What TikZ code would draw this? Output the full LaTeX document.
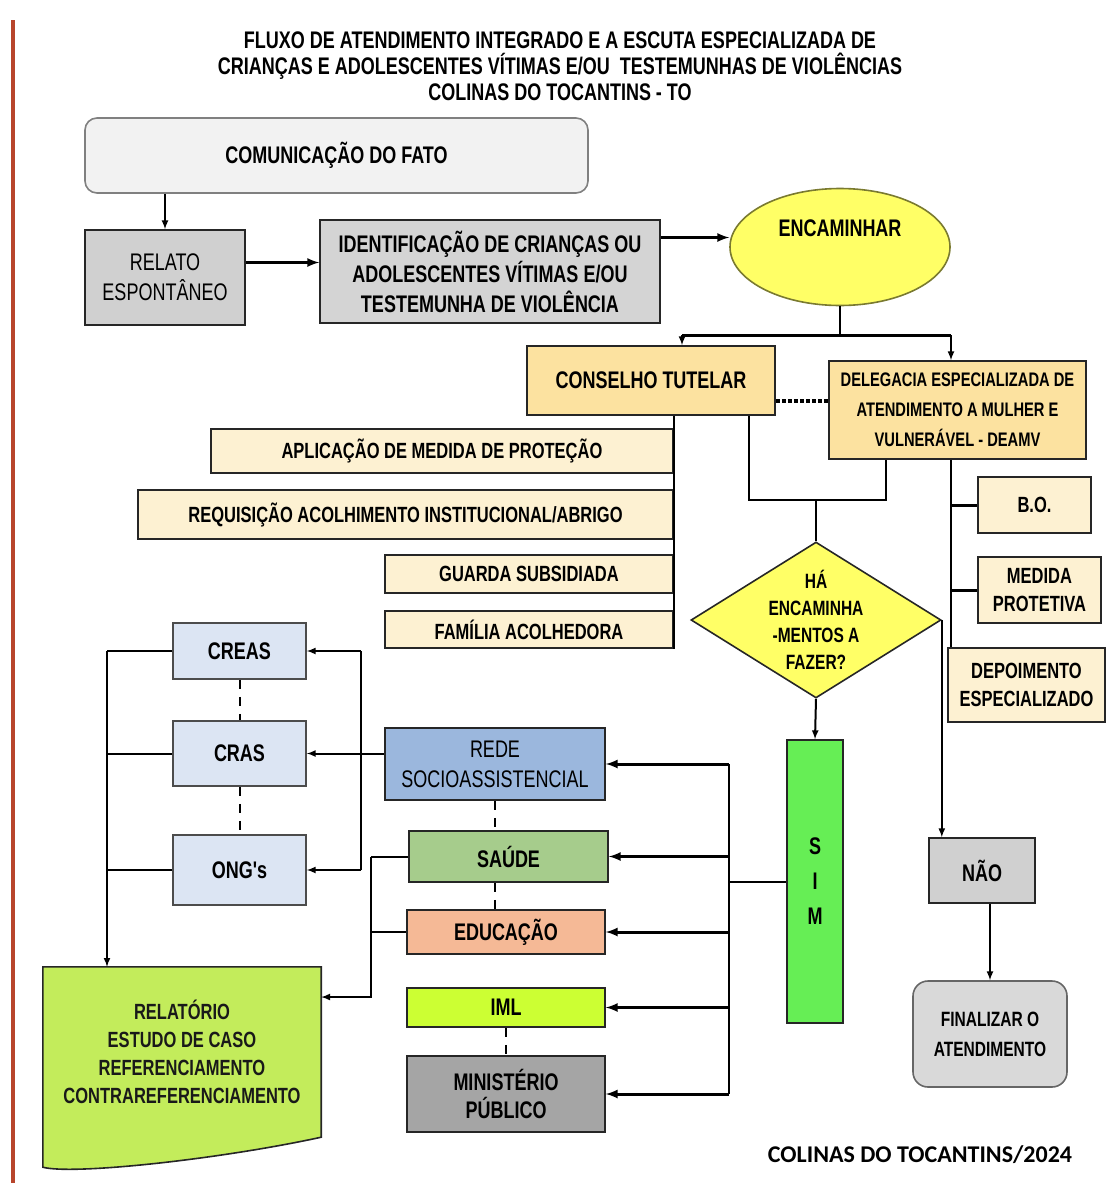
\documentclass[tikz,border=0pt]{standalone}
\usepackage{fontspec}
\usepackage{xcolor}
\usepackage{tikz}
\usetikzlibrary{positioning}
\usetikzlibrary{shapes.geometric}
\pgfdeclarelayer{nodelayer}
\pgfdeclarelayer{edgelayer}
\pgfsetlayers{nodelayer,edgelayer,main}

\newfontfamily\narrowfont[FakeStretch=0.75]{Liberation Sans}
\newfontfamily\footfont{Carlito}

\definecolor{lightgrey}{HTML}{F2F2F2}
\definecolor{relgrey}{HTML}{D0D0D0}
\definecolor{identgrey}{HTML}{D4D4D4}
\definecolor{encyellow}{HTML}{FFFF66}
\definecolor{encborder}{HTML}{7A7A30}
\definecolor{ctgold}{HTML}{FCE2A0}
\definecolor{subcream}{HTML}{FDF1D2}
\definecolor{simgreen}{HTML}{66EE55}
\definecolor{fingrey}{HTML}{D9D9D9}
\definecolor{creasblue}{HTML}{DCE5F3}
\definecolor{redeblue}{HTML}{9BB7DD}
\definecolor{saudegreen}{HTML}{A6CC8C}
\definecolor{educsalmon}{HTML}{F5B996}
\definecolor{imlgreen}{HTML}{CCFF33}
\definecolor{mpgrey}{HTML}{A5A5A5}
\definecolor{relgreen}{HTML}{C3EC5B}
\definecolor{redline}{HTML}{B8452C}

\tikzset{
    boldtext/.style={font=\narrowfont\bfseries\fontsize{24}{28}\selectfont, align=center},
    box/.style={draw=black!85, line width=1.6pt, inner sep=0pt, boldtext},
    plainbox/.style={box, font=\narrowfont\fontsize{24}{30}\selectfont},
    subbox/.style={box, fill=subcream, font=\narrowfont\bfseries\fontsize{22}{28}\selectfont},
    link/.style={line width=2pt},
    arrow/.style={link, ->, >=latex},
    dashlink/.style={line width=2pt, dash pattern=on 9pt off 8pt}
}

\begin{document}
\begin{tikzpicture}[x=1pt, y=-1pt]
        \useasboundingbox (0,0) rectangle (1113,1183);
        \begin{pgfonlayer}{nodelayer}
            \node [boldtext, font=\narrowfont\bfseries\fontsize{24}{26}\selectfont] (0) at (560,66) {FLUXO DE ATENDIMENTO INTEGRADO E A ESCUTA ESPECIALIZADA DE\\CRIANÇAS E ADOLESCENTES VÍTIMAS E/OU \ TESTEMUNHAS DE VIOLÊNCIAS\\COLINAS DO TOCANTINS - TO};
            \node [box, rounded corners=12pt, fill=lightgrey, draw=black!50, minimum width=503pt, minimum height=75pt] (1) at (336.5,155.5) {COMUNICAÇÃO DO FATO};
            \node [plainbox, fill=relgrey, minimum width=160pt, minimum height=95pt] (2) at (165,277.5) {RELATO\\ESPONTÂNEO};
            \node [box, fill=identgrey, minimum width=340pt, minimum height=103pt, font=\narrowfont\bfseries\fontsize{24}{30}\selectfont] (3) at (490,271.5) {IDENTIFICAÇÃO DE CRIANÇAS OU\\ADOLESCENTES VÍTIMAS E/OU\\TESTEMUNHA DE VIOLÊNCIA};
            \node [ellipse, draw=encborder, line width=1.6pt, fill=encyellow, minimum width=220pt, minimum height=117pt, label={[boldtext, yshift=19pt]center:ENCAMINHAR}] (4) at (840,247) {};
            \node [box, fill=ctgold, minimum width=248pt, minimum height=69pt] (5) at (651,380.5) {CONSELHO TUTELAR};
            \node [box, fill=ctgold, minimum width=257pt, minimum height=98pt, font=\narrowfont\bfseries\fontsize{19.6}{30}\selectfont] (6) at (957.5,410) {DELEGACIA ESPECIALIZADA DE\\ATENDIMENTO A MULHER E\\VULNERÁVEL - DEAMV};
            \node [subbox, minimum width=462pt, minimum height=44pt] (7) at (442,451) {APLICAÇÃO DE MEDIDA DE PROTEÇÃO};
            \node [subbox, minimum width=535pt, minimum height=49pt] (8) at (405.5,514.5) {REQUISIÇÃO ACOLHIMENTO INSTITUCIONAL/ABRIGO};
            \node [subbox, minimum width=288pt, minimum height=38pt] (9) at (529,574) {GUARDA SUBSIDIADA};
            \node [subbox, minimum width=288pt, minimum height=37pt] (10) at (529,629.5) {FAMÍLIA ACOLHEDORA};
            \node [subbox, minimum width=113pt, minimum height=56pt] (11) at (1034.5,505) {B.O.};
            \node [subbox, minimum width=123pt, minimum height=66pt] (12) at (1039.5,590) {MEDIDA\\PROTETIVA};
            \node [subbox, minimum width=157pt, minimum height=74pt] (13) at (1026.5,685) {DEPOIMENTO\\ESPECIALIZADO};
            \node [diamond, draw=black!85, line width=1.6pt, fill=encyellow, minimum width=250pt, minimum height=156pt, inner sep=0pt, label={[boldtext, font=\narrowfont\bfseries\fontsize{20.7}{27}\selectfont]center:HÁ\\ENCAMINHA\\-MENTOS A\\FAZER?}] (14) at (816,620) {};
            \node [box, fill=simgreen, minimum width=56pt, minimum height=283pt, font=\narrowfont\bfseries\fontsize{24}{35}\selectfont] (15) at (815,881.5) {S\\I\\M};
            \node [box, fill=relgrey, minimum width=106pt, minimum height=65pt] (16) at (982,870.5) {NÃO};
            \node [box, rounded corners=15pt, fill=fingrey, draw=black!60, minimum width=154pt, minimum height=106pt, font=\narrowfont\bfseries\fontsize{20.7}{30}\selectfont] (17) at (990,1034) {FINALIZAR O\\ATENDIMENTO};
            \node [box, fill=creasblue, draw=black!70, minimum width=133pt, minimum height=56pt] (18) at (239.5,651) {CREAS};
            \node [box, fill=creasblue, draw=black!70, minimum width=133pt, minimum height=65pt] (19) at (239.5,753.5) {CRAS};
            \node [box, fill=creasblue, draw=black!70, minimum width=133pt, minimum height=70pt] (20) at (239.5,870) {ONG's};
            \node [plainbox, fill=redeblue, minimum width=220pt, minimum height=72pt] (21) at (495,764) {REDE\\SOCIOASSISTENCIAL};
            \node [box, fill=saudegreen, minimum width=199pt, minimum height=51pt] (22) at (508.5,856.5) {SAÚDE};
            \node [box, fill=educsalmon, minimum width=198pt, minimum height=44pt] (23) at (506,932) {EDUCAÇÃO};
            \node [box, fill=imlgreen, minimum width=198pt, minimum height=39pt] (24) at (506,1007.5) {IML};
            \node [box, fill=mpgrey, minimum width=198pt, minimum height=76pt] (25) at (506,1094) {MINISTÉRIO\\PÚBLICO};
            \node [boldtext, fill=relgreen, text=black!90, inner sep=0pt, minimum width=278pt, minimum height=170pt, font=\narrowfont\bfseries\fontsize{22}{28}\selectfont] (26) at (182,1052) {RELATÓRIO\\ESTUDO DE CASO\\REFERENCIAMENTO\\CONTRAREFERENCIAMENTO};
            \fill [relgreen] (26.south west) -- (26.south east) .. controls +(-101,22) and +(30,8) .. ([yshift=-30pt]26.south west) -- cycle;
            \draw [line width=1.6pt, black!85] (26.north west) -- (26.north east) -- (26.south east) .. controls +(-101,22) and +(30,8) .. ([yshift=-30pt]26.south west) -- cycle;
            \node [font=\footfont\bfseries\fontsize{24}{30}\selectfont] (27) at (920,1155) {COLINAS DO TOCANTINS/2024};
        \end{pgfonlayer}
        \begin{pgfonlayer}{edgelayer}
            \coordinate (28) at (729,881.5);
            \coordinate (29) at (361,753.5);
            \coordinate (30) at (107,651);
            \coordinate (31) at (371,997);
            \coordinate (32) at (682,335);
            \coordinate (33) at (951,335);
            \coordinate (34) at (749,500);
            \coordinate (35) at (886,500);
            \coordinate (36) at (816,500);
            \coordinate (37) at (951,460);
            \coordinate (38) at ([yshift=15pt]2.east);
            \coordinate (39) at ([yshift=34pt]3.east);
            \draw [arrow] (2.north |- 1.south) to (2.north);
            \draw [arrow, line width=3pt] (38) to (38 -| 3.west);
            \draw [arrow, line width=3pt] (39) to (39 -| 4.west);
            \draw [link] (4.south) to (4.south |- 32);
            \draw [link, line width=3pt] (32) to (33);
            \draw [arrow] (32) to (32 |- 5.north);
            \draw [arrow] (33) to (33 |- 6.north);
            \draw [line width=4pt, dotted] ([yshift=-20pt]5.east) to ([yshift=-20pt]5.east -| 6.west);
            \draw [link] (10.east |- 5.south) to (10.south east);
            \draw [link] (34 |- 5.south) to (34) to (35) to (35 |- 6.south);
            \draw [link] (36) to (14.north);
            \draw [link] (37 |- 6.south) to (37 |- 13.north);
            \draw [link, line width=3pt] (37 |- 11.west) to (11.west);
            \draw [link, line width=3pt] (37 |- 12.west) to (12.west);
            \draw [arrow] (14.south) to (15.north);
            \draw [arrow] (14.east) to (14.east |- 16.north);
            \draw [arrow] (16.south -| 17.north) to (17.north);
            \draw [link] (15.west) to (28);
            \draw [link] (28 |- 21.east) to (28 |- 25.east);
            \draw [arrow, line width=3pt] (28 |- 21.east) to (21.east);
            \draw [arrow, line width=3pt] (28 |- 22.east) to (22.east);
            \draw [arrow, line width=3pt] (28 |- 23.east) to (23.east);
            \draw [arrow, line width=3pt] (28 |- 24.east) to (24.east);
            \draw [arrow, line width=3pt] (28 |- 25.east) to (25.east);
            \draw [dashlink] (21.south) to (21.south |- 22.north);
            \draw [dashlink] (21.south |- 22.south) to (21.south |- 23.north);
            \draw [dashlink] (24.south) to (25.north);
            \draw [link] (21.west |- 19.east) to (29);
            \draw [link] (29 |- 18.east) to (29 |- 20.east);
            \draw [arrow] (29 |- 18.east) to (18.east);
            \draw [arrow] (29) to (19.east);
            \draw [arrow] (29 |- 20.east) to (20.east);
            \draw [dashlink] (18.south) to (19.north);
            \draw [dashlink] (19.south) to (20.north);
            \draw [link] (18.west) to (30);
            \draw [link] (19.west) to (30 |- 19.west);
            \draw [link] (20.west) to (30 |- 20.west);
            \draw [arrow] (30) to (30 |- 26.north);
            \draw [link] (22.west) to (22.west -| 31);
            \draw [arrow] (22.west -| 31) to (31) to (31 -| 26.east);
            \draw [link] (23.west) to (23.west -| 31);
        \end{pgfonlayer}
        \draw [line width=3.5pt, redline] (13,20) -- (13,1183);
    \end{tikzpicture}
\end{document}
